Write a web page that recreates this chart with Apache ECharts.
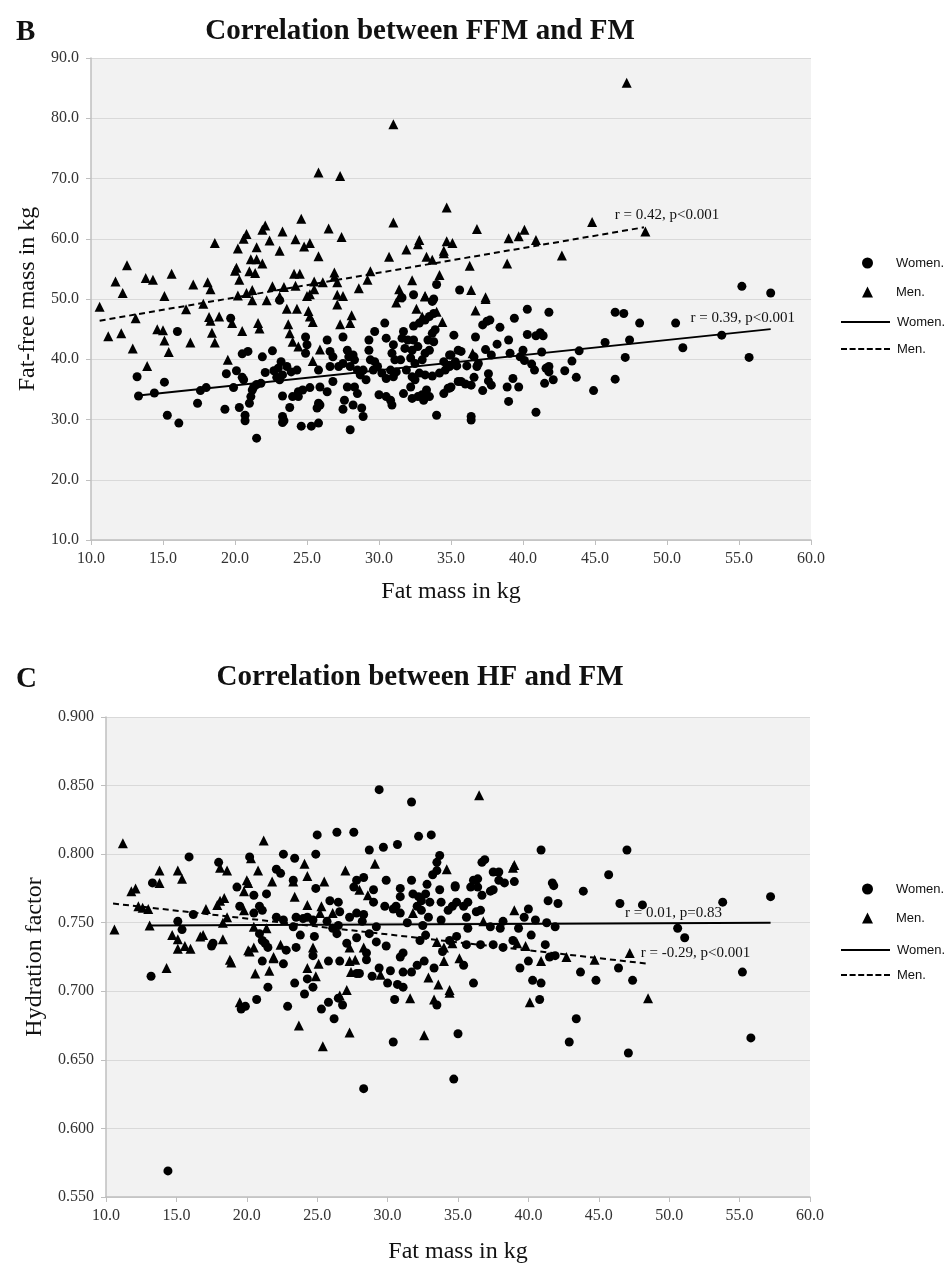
<!DOCTYPE html>
<html>
<head>
<meta charset="utf-8">
<script src="https://cdn.jsdelivr.net/npm/echarts@6/dist/echarts.min.js"></script>
<style>
  html, body { margin: 0; padding: 0; background: #fff; }
  #chart { width: 949px; height: 1267px; }
</style>
</head>
<body>
<div id="chart"></div>
<script>
// ---- Panel B: fat-free mass vs fat mass ----
const ffmWomen = [
  [34.0,52.4],[32.4,50.7],[31.6,50.2],[33.8,50.0],[35.6,51.5],[55.2,52.1],[57.2,51.0],[16.0,44.6],[19.7,46.8],[23.1,49.8],
  [13.2,37.1],[13.3,33.9],[14.4,34.4],[15.1,36.2],[15.3,30.7],[16.1,29.4],[17.4,32.7],[17.6,34.8],[18.0,35.3],[19.3,31.7],
  [19.4,37.6],[19.9,35.3],[20.1,38.1],[20.5,37.0],[20.6,36.6],[20.3,32.0],[20.7,30.7],[20.7,29.8],[21.0,32.7],[21.1,33.8],
  [21.2,34.9],[21.3,35.4],[21.5,35.8],[21.8,36.0],[21.5,26.9],[20.5,40.9],[20.9,41.3],[21.9,40.4],[22.6,41.4],
  [22.1,37.8],[22.7,38.1],[22.9,37.0],[23.1,36.6],[23.3,37.4],[23.0,38.5],[23.2,39.6],[23.6,38.8],[23.9,37.9],[24.3,38.2],
  [23.3,33.9],[23.3,30.5],[23.4,29.8],[23.3,29.5],[23.8,32.0],[24.0,33.8],[24.4,34.6],[24.7,34.9],[24.4,33.8],[24.6,28.9],
  [25.3,28.9],[25.8,29.4],[25.2,35.3],[25.9,35.4],[25.8,32.7],[25.7,31.9],[25.9,32.4],[26.4,34.6],[24.9,43.7],[25.0,42.4],
  [24.9,41.0],[25.8,38.2],[26.4,43.2],[26.6,41.3],[26.8,40.4],[26.8,36.3],[26.6,38.8],[27.2,38.8],[27.5,39.3],[27.5,43.7],
  [27.8,41.5],[27.9,40.4],[28.2,40.7],[28.3,39.9],[28.0,38.8],[28.5,38.2],[28.7,37.4],[28.9,38.2],[29.1,36.6],
  [27.8,35.4],[28.3,35.4],[28.5,34.3],[27.6,33.2],[28.2,32.4],[27.5,31.7],[28.8,31.9],[28.9,30.5],[28.0,28.3],
  [29.3,43.2],[29.7,44.6],[29.3,41.5],[29.4,39.9],[29.7,39.6],[29.9,38.8],[29.6,38.2],[30.2,37.7],[30.5,36.8],
  [30.4,46.0],[30.5,43.5],[31.0,42.4],[30.9,41.0],[31.1,39.9],[30.8,38.2],[31.0,37.1],[31.2,37.9],[31.5,39.9],
  [30.0,34.1],[30.5,33.8],[30.8,33.2],[30.9,32.4],
  [31.7,44.6],[31.6,43.5],[32.0,43.2],[32.4,43.2],[31.8,41.8],[32.3,41.5],[32.7,42.1],[32.2,40.2],[32.5,39.3],[33.0,39.9],
  [33.2,41.0],[33.5,41.5],[33.4,43.2],[33.8,42.9],[33.9,44.9],[33.7,44.3],
  [32.4,45.5],[32.8,46.0],[33.2,46.5],[33.5,47.1],[33.8,47.6],[33.7,49.6],
  [31.9,38.2],[32.3,37.1],[32.5,36.6],[32.8,37.7],[33.2,37.4],[33.7,37.2],[34.2,37.7],[34.6,38.2],[34.9,38.8],[34.5,39.6],
  [35.0,40.7],[35.3,39.6],[35.5,41.5],[35.5,36.3],
  [31.7,34.3],[32.2,35.4],[32.3,33.5],[32.7,33.8],[33.0,34.1],[33.3,34.9],[33.5,33.8],[33.1,33.2],[34.5,34.3],[34.8,35.2],
  [35.0,35.4],[34.0,30.7],
  [46.4,47.8],[47.0,47.6],[48.1,46.0],[50.6,46.0],[45.7,42.8],[47.4,43.2],[47.1,40.3],[51.1,41.9],[53.8,44.0],[55.7,40.3],
  [46.4,36.7],[44.9,34.8],[43.9,41.4],[43.4,39.7],[42.9,38.1],[43.7,37.0],[41.8,47.8],[40.3,48.3],[39.4,46.8],[41.2,44.4],
  [40.9,43.9],[41.4,43.9],[40.3,44.1],
  [41.3,41.2],[40.0,41.5],[39.8,40.4],[40.1,39.8],[40.6,39.2],[40.8,38.2],[41.6,38.5],[41.8,37.9],[42.1,36.6],[41.5,36.0],
  [41.8,38.8],[40.9,31.2],[39.0,33.0],[38.9,35.4],[39.3,36.8],[39.7,35.4],[39.0,43.2],[39.1,41.0],[38.4,45.3],[38.2,42.5],
  [37.8,40.7],[37.2,45.7],[37.5,46.3],[37.7,46.5],[37.4,41.6],[37.6,37.6],[37.8,35.7],[37.6,36.4],[37.2,34.8],
  [36.7,43.7],[36.6,40.4],[36.9,39.3],[36.8,38.8],[36.6,37.0],[36.4,35.7],[36.0,35.9],[35.7,36.3],[36.1,38.9],[35.4,38.9],
  [34.9,39.0],[35.7,41.3],[34.9,40.7],[34.9,35.2],[36.4,30.5],[36.4,29.9],[35.2,44.0]
];
const ffmMen = [
  [31.0,79.0],[25.8,71.0],[27.3,70.4],[34.7,65.2],[24.6,63.3],[31.0,62.7],[22.1,62.2],[21.9,61.5],[23.3,61.2],[26.5,61.7],
  [20.8,60.8],[20.6,60.0],[18.6,59.3],[22.4,59.7],[24.2,59.9],[25.2,59.3],[24.8,58.7],[27.4,60.3],[20.2,58.4],[21.5,58.6],
  [23.1,58.0],[25.8,57.1],[21.1,56.6],[21.5,56.6],[21.9,55.9],[20.1,55.2],[20.0,54.7],[21.0,54.6],[21.4,54.3],[20.3,53.2],
  [12.5,55.6],[11.7,52.9],[12.2,51.0],[13.8,53.5],[14.3,53.2],[15.6,54.2],[15.1,50.5],[17.1,52.4],[18.1,52.8],[18.3,51.6],
  [24.1,54.2],[24.5,54.2],[26.9,54.4],[26.9,53.7],[27.1,52.8],[25.5,52.9],[26.1,52.8],[25.5,51.6],[24.2,52.2],[23.4,52.0],
  [22.6,52.1],[21.2,51.5],[20.8,51.0],[29.4,54.6],[29.2,53.2],[28.6,51.8],[30.7,57.0],[31.9,58.2],[32.8,59.8],[32.7,59.1],
  [33.3,57.0],[33.7,56.5],[34.5,58.0],[34.5,57.6],[34.7,59.6],[35.1,59.3],[34.2,54.0],[32.3,53.1],[31.4,51.6],[27.1,50.7],
  [27.5,50.5],[25.0,50.5],[25.2,50.8],[23.1,50.4],[20.2,50.6],[33.2,50.5],
  [47.2,85.9],[44.8,62.8],[48.5,61.2],[40.1,61.5],[39.7,60.4],[39.0,60.1],[40.9,59.8],[36.8,61.6],[42.7,57.2],[36.3,55.5],
  [38.9,55.9],[36.4,51.5],[37.4,50.3],
  [10.6,48.7],[13.1,46.8],[11.2,43.8],[12.1,44.3],[12.9,41.8],[14.6,45.0],[15.0,44.8],[15.1,43.1],[15.4,41.2],[13.9,38.9],
  [16.9,42.8],[16.6,48.3],[17.8,49.2],[18.2,47.0],[18.3,46.4],[18.9,47.1],[18.4,44.4],[18.6,42.8],[19.5,39.9],[20.5,44.7],
  [21.6,46.0],[21.7,45.1],[19.8,46.0],[21.2,49.8],[22.2,49.8],[23.6,48.4],[24.3,48.4],[23.7,45.8],[23.8,44.3],[24.0,42.9],
  [25.1,48.0],[25.2,47.1],[25.4,46.2],[27.1,49.1],[27.3,45.8],[28.0,46.0],[28.1,47.3],[25.9,41.6],[25.4,39.7],[24.4,42.1],
  [31.2,49.4],[31.4,50.3],[32.6,48.4],[33.2,50.4],[33.0,47.1],[34.0,47.9],[34.4,46.2],[37.4,50.0],[36.7,48.1],[36.5,41.0]
];
const ffmWomenFit = [[13.3, 34.0], [57.2, 45.0]];
const ffmMenFit = [[10.6, 46.4], [48.4, 61.9]];

// ---- Panel C: hydration factor vs fat mass ----
const hfWomen = [
  [29.4,0.847],[31.7,0.838],[32.2,0.813],[33.1,0.814],[26.4,0.816],[27.6,0.816],[25.0,0.814],[24.9,0.800],[22.6,0.800],[23.4,0.797],
  [15.9,0.798],[18.0,0.794],[20.2,0.798],[13.3,0.779],[28.7,0.803],[29.7,0.805],[30.7,0.807],[33.7,0.799],[33.5,0.794],[15.1,0.751],
  [15.4,0.745],[16.2,0.756],[17.5,0.733],[17.6,0.735],
  [19.3,0.776],[19.5,0.762],[20.5,0.770],[20.9,0.762],[21.1,0.759],[20.5,0.757],[21.4,0.771],[22.1,0.789],[22.4,0.786],
  [22.1,0.754],[22.6,0.752],[23.3,0.781],[23.3,0.747],[23.5,0.754],[24.0,0.753],[23.8,0.741],[24.3,0.754],[24.7,0.752],[24.8,0.740],
  [20.9,0.742],[21.1,0.737],[21.3,0.735],[21.5,0.732],[22.8,0.730],[23.5,0.732],
  [24.9,0.775],[25.9,0.766],[26.5,0.765],[26.6,0.758],[25.7,0.751],[26.1,0.746],[26.4,0.742],[26.5,0.748],[27.1,0.735],[27.8,0.739],
  [27.3,0.754],[27.8,0.757],[28.3,0.756],[28.2,0.751],[27.8,0.781],[27.6,0.776],[28.3,0.783],[29.0,0.774],[29.0,0.765],[29.9,0.781],
  [29.8,0.762],[30.4,0.760],[30.6,0.762],
  [29.2,0.747],[29.2,0.736],[29.9,0.733],[28.7,0.742],[28.5,0.728],
  [30.9,0.775],[30.9,0.769],[30.9,0.757],[31.4,0.750],[31.7,0.781],[31.8,0.771],[32.2,0.769],[32.4,0.766],[32.8,0.778],[33.2,0.785],
  [33.5,0.788],[33.0,0.765],[33.7,0.774],[33.8,0.765],[34.3,0.759],[34.8,0.777],[34.9,0.765],[32.1,0.762],[32.4,0.759],[32.9,0.754],
  [33.8,0.752],[32.5,0.748],[32.3,0.737],[32.7,0.741],[32.7,0.771],
  [40.9,0.803],[47.0,0.803],[45.7,0.785],[43.9,0.773],[46.5,0.764],[48.1,0.763],[53.8,0.765],[57.2,0.769],[50.6,0.746],[51.1,0.739],
  [36.7,0.794],[36.9,0.796],[37.5,0.787],[37.9,0.787],[37.9,0.781],[38.3,0.779],[39.0,0.780],[36.1,0.781],[36.4,0.782],[35.9,0.776],
  [36.4,0.776],[36.7,0.770],[37.3,0.773],[37.5,0.774],[34.8,0.776],[35.7,0.765],[35.4,0.762],[34.6,0.762],[35.6,0.754],[36.3,0.758],
  [36.6,0.759],
  [40.0,0.760],[39.7,0.754],[40.5,0.752],[41.3,0.750],[41.9,0.747],[39.3,0.746],[38.2,0.751],[38.0,0.746],[37.3,0.747],[35.7,0.746],
  [41.7,0.779],[41.4,0.766],[42.1,0.764],[41.8,0.777],
  [34.9,0.740],[34.4,0.737],[35.6,0.734],[36.6,0.734],[37.5,0.734],[38.2,0.732],[38.9,0.737],[40.2,0.741],[41.2,0.734],
  [39.4,0.717],[40.0,0.722],[40.3,0.708],[40.9,0.706],[40.8,0.694],[41.5,0.725],[41.9,0.726],[35.4,0.719],[36.1,0.706],[35.0,0.669],
  [34.7,0.636],[43.7,0.714],[44.8,0.708],[46.4,0.717],[47.4,0.708],[55.2,0.714],[55.8,0.666],[43.4,0.680],[42.9,0.663],[47.1,0.655],
  [13.2,0.711],[14.4,0.569],[28.3,0.629],[30.4,0.663],
  [19.6,0.687],[19.9,0.689],[20.7,0.694],[21.5,0.703],[21.1,0.722],[22.6,0.720],[22.9,0.689],[23.4,0.706],[24.1,0.698],[24.3,0.709],
  [24.7,0.703],[24.7,0.726],[25.3,0.687],[25.8,0.692],[26.2,0.680],[26.5,0.695],[26.8,0.690],[25.8,0.722],[26.6,0.722],
  [27.8,0.713],[28.0,0.713],[28.5,0.723],[28.9,0.711],[29.4,0.717],[30.2,0.715],[30.0,0.706],[30.5,0.694],[30.7,0.705],[31.1,0.703],
  [31.1,0.714],[31.7,0.714],[32.1,0.719],[32.6,0.722],[33.3,0.717],[33.5,0.690],[30.9,0.725],[31.1,0.728],[33.9,0.729]
];
const hfMen = [
  [11.2,0.808],[10.6,0.745],[11.8,0.773],[12.1,0.775],[12.3,0.762],[12.6,0.761],[13.0,0.760],[13.1,0.748],[13.8,0.788],[13.8,0.779],
  [15.1,0.788],[15.4,0.782],[14.7,0.741],[15.1,0.738],[15.1,0.731],[15.6,0.733],[16.0,0.731],[16.7,0.740],[16.9,0.741],[17.1,0.760],
  [18.3,0.738],[17.9,0.763],[18.1,0.766],[18.4,0.768],[18.6,0.754],[18.3,0.750],[18.1,0.790],[18.6,0.788],[21.2,0.810],[20.3,0.797],
  [20.8,0.788],[21.8,0.780],[19.8,0.773],[20.0,0.781],[20.1,0.779],[24.1,0.793],[24.3,0.784],[25.5,0.780],[27.0,0.788],[23.3,0.780],
  [23.4,0.769],[29.1,0.793],[28.0,0.774],[28.6,0.770],[34.2,0.789],[19.8,0.759],[20.5,0.747],[21.4,0.746],[22.4,0.734],[21.9,0.724],
  [20.5,0.732],[20.1,0.730],[18.8,0.723],[24.3,0.763],[24.7,0.732],[25.2,0.757],[25.3,0.762],[26.1,0.757],[27.3,0.732],[27.7,0.723],
  [28.3,0.732],[31.8,0.757],[33.5,0.736],[34.0,0.732],[34.6,0.735],
  [36.5,0.843],[39.0,0.792],[38.9,0.790],[39.0,0.759],[36.8,0.751],[39.8,0.733],[39.2,0.735],[35.1,0.724],
  [40.9,0.722],[42.7,0.725],[44.7,0.723],[47.2,0.728],[48.5,0.695],[40.1,0.692],[34.4,0.699],
  [14.3,0.717],[18.9,0.721],[19.5,0.692],[20.6,0.713],[21.6,0.715],[21.9,0.725],[20.2,0.729],[23.7,0.675],[24.3,0.717],[24.9,0.711],
  [25.1,0.720],[25.4,0.660],[26.6,0.697],[27.1,0.701],[27.3,0.670],[27.3,0.722],[27.4,0.714],[29.5,0.712],[31.6,0.695],[32.6,0.668],
  [32.9,0.710],[33.6,0.705],[34.0,0.722],[34.4,0.701],[33.3,0.694]
];
const hfWomenFit = [[13.2, 0.748], [57.2, 0.750]];
const hfMenFit = [[10.5, 0.764], [48.6, 0.720]];

const SERIF = '"Liberation Serif", "DejaVu Serif", serif';
const SANS = '"Liberation Sans", Arial, sans-serif';

// legend icons for the two fit lines (solid bar, six dashes)
const SOLID_ICON = 'path://M0,0H49V2H0Z';
const DASH_ICON = 'path://M0,0h6v2h-6zM8.6,0h6v2h-6zM17.2,0h6v2h-6zM25.8,0h6v2h-6zM34.4,0h6v2h-6zM43,0h6v2h-6z';

const chart = echarts.init(document.getElementById('chart'), null, { renderer: 'canvas' });

function xAxis(grid, gap) {
  return {
    gridIndex: grid, type: 'value', min: 10, max: 60, interval: 5,
    name: 'Fat mass in kg', nameLocation: 'middle', nameGap: gap,
    nameTextStyle: { fontFamily: SERIF, fontSize: 24, color: '#111' },
    axisLine: { show: true, lineStyle: { color: '#bfbfbf', width: 1.5 } },
    axisTick: { show: true, length: 5, lineStyle: { color: '#bfbfbf' } },
    axisLabel: { fontFamily: SERIF, fontSize: 16, color: '#333', margin: 11, formatter: v => v.toFixed(1) },
    splitLine: { show: false },
  };
}

function yAxis(grid, o) {
  return {
    gridIndex: grid, type: 'value', min: o.min, max: o.max, interval: o.interval,
    name: o.name, nameLocation: 'middle', nameGap: o.gap,
    nameTextStyle: { fontFamily: SERIF, fontSize: 24, color: '#111' },
    axisLine: { show: true, lineStyle: { color: '#bfbfbf', width: 1.5 } },
    axisTick: { show: true, length: 5, lineStyle: { color: '#bfbfbf' } },
    axisLabel: { fontFamily: SERIF, fontSize: 16, color: '#333', margin: 12, formatter: v => v.toFixed(o.digits) },
    splitLine: { show: true, lineStyle: { color: '#d9d9d9', width: 1.2 } },
  };
}

function scatter(name, data, idx, symbol, size) {
  return {
    name, type: 'scatter', data, xAxisIndex: idx, yAxisIndex: idx,
    symbol, symbolSize: size, itemStyle: { color: '#000', opacity: 1 }, z: 3,
  };
}

// fit line, with its r/p label hung off the end point
function fit(name, data, idx, dashed, text, offset) {
  return {
    name, type: 'line', data, xAxisIndex: idx, yAxisIndex: idx,
    symbol: 'none', silent: true, z: 4,
    lineStyle: { color: '#000', width: 2, type: dashed ? [6, 4] : 'solid' },
    itemStyle: { color: '#000' },
    markPoint: {
      symbol: 'circle', symbolSize: 0, silent: true,
      label: { show: true, position: 'inside', offset, formatter: text, color: '#111', fontFamily: SERIF, fontSize: 15 },
      data: [{ coord: data[data.length - 1] }],
    },
  };
}

function symbolLegend(top) {
  return {
    orient: 'vertical', left: 857, top, data: ['Women.', 'Men.'],
    itemWidth: 11, itemHeight: 11, itemGap: 15,
    textStyle: { fontFamily: SANS, fontSize: 13, lineHeight: 14, color: '#111', padding: [0, 0, 0, 18] },
  };
}
function lineLegend(top, gap) {
  return {
    orient: 'vertical', left: 836, top,
    data: [{ name: 'Women. (fit)', icon: SOLID_ICON }, { name: 'Men. (fit)', icon: DASH_ICON }],
    itemWidth: 49, itemHeight: 2, itemGap: gap,
    formatter: n => n.replace(' (fit)', ''),
    itemStyle: { color: '#000', borderWidth: 0 },
    textStyle: { fontFamily: SANS, fontSize: 13, lineHeight: 14, color: '#111', padding: [0, 0, 0, 2] },
  };
}

function heading(x, y, text) {
  return { type: 'text', x, y, style: { text, font: 'bold 29px ' + SERIF, fill: '#111', align: 'center', verticalAlign: 'middle', textAlign: 'center', textVerticalAlign: 'middle' } };
}
function panel(y, text) {
  return { type: 'text', x: 16, y, style: { text, font: 'bold 29px ' + SERIF, fill: '#111', verticalAlign: 'middle', textVerticalAlign: 'middle' } };
}

chart.setOption({
  backgroundColor: '#fff',
  animation: false,
  graphic: [
    heading(420, 32, 'Correlation between FFM and FM'),
    heading(420, 678, 'Correlation between HF and FM'),
    panel(33, 'B'),
    panel(680, 'C'),
  ],
  legend: [symbolLegend(251), lineLegend(310, 13), symbolLegend(877), lineLegend(938, 11)],
  grid: [
    { left: 91, top: 58, width: 720, height: 482, show: true, backgroundColor: '#f2f2f2', borderWidth: 0 },
    { left: 106, top: 717, width: 704, height: 480, show: true, backgroundColor: '#f2f2f2', borderWidth: 0 },
  ],
  xAxis: [xAxis(0, 40), xAxis(1, 43)],
  yAxis: [
    yAxis(0, { min: 10, max: 90, interval: 10, digits: 1, name: 'Fat-free mass in kg', gap: 44 }),
    yAxis(1, { min: 0.55, max: 0.9, interval: 0.05, digits: 3, name: 'Hydration factor', gap: 58 }),
  ],
  series: [
    scatter('Women.', ffmWomen, 0, 'circle', 9),
    scatter('Men.', ffmMen, 0, 'triangle', 10),
    fit('Women. (fit)', ffmWomenFit, 0, false, 'r = 0.39, p<0.001', [-28, -11]),
    fit('Men. (fit)', ffmMenFit, 0, true, 'r = 0.42, p<0.001', [23, -12]),
    scatter('Women.', hfWomen, 1, 'circle', 9),
    scatter('Men.', hfMen, 1, 'triangle', 10),
    fit('Women. (fit)', hfWomenFit, 1, false, 'r = 0.01, p=0.83', [-97, -10]),
    fit('Men. (fit)', hfMenFit, 1, true, 'r = -0.29, p<0.001', [46, -11]),
  ],
});
</script>
</body>
</html>
